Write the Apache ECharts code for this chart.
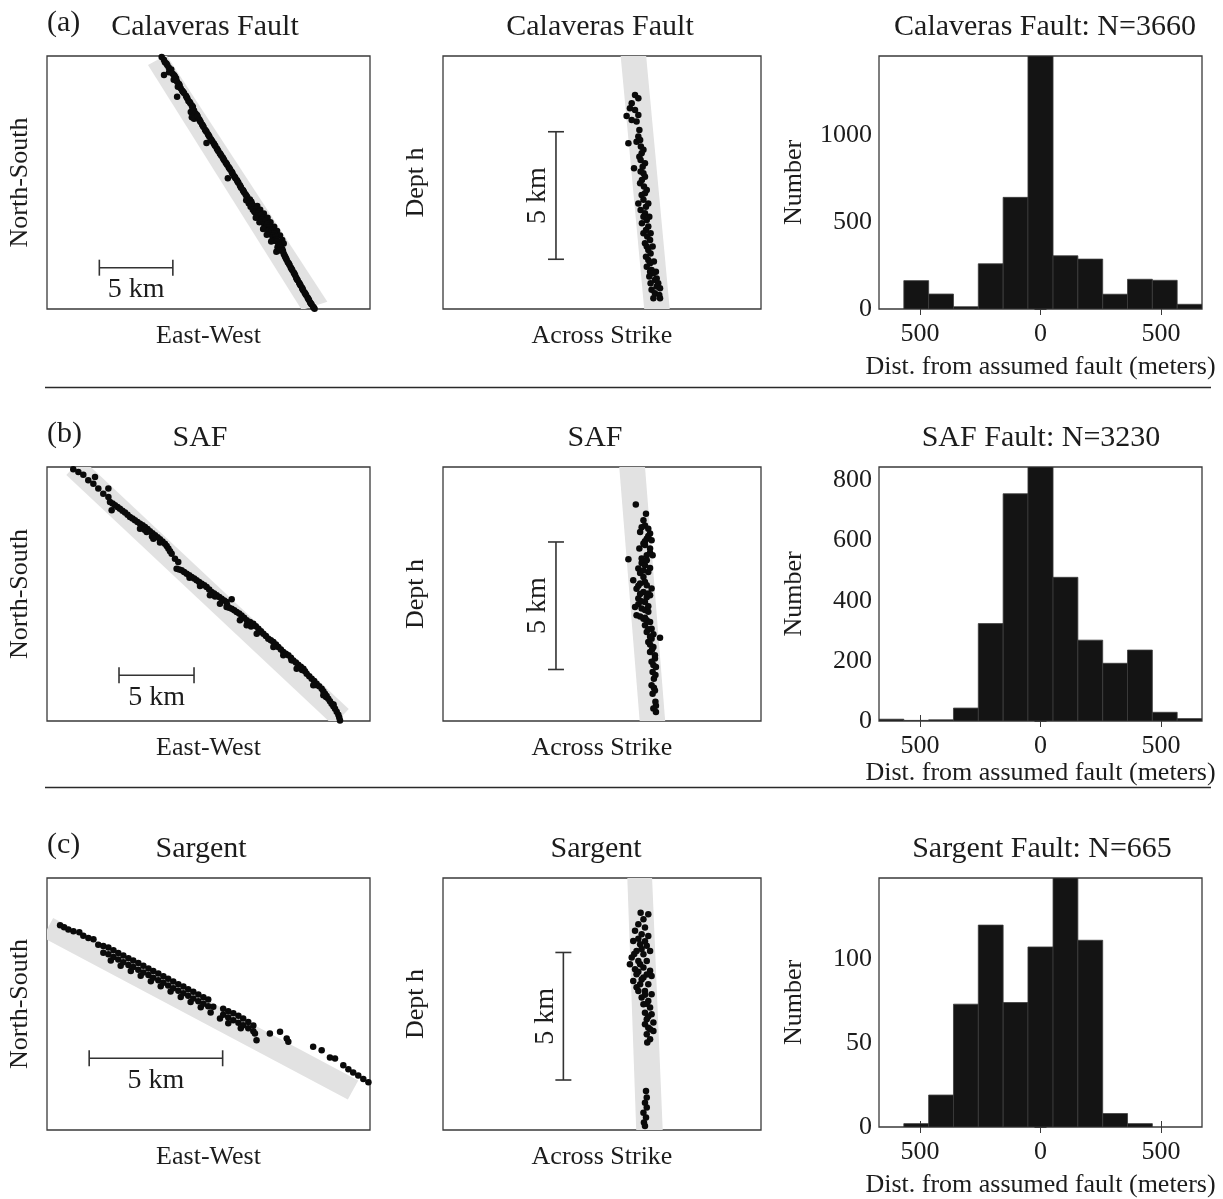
<!DOCTYPE html>
<html>
<head>
<meta charset="utf-8">
<script src="https://cdn.jsdelivr.net/npm/echarts@6/dist/echarts.min.js"></script>
<style>
  html, body { margin: 0; padding: 0; background: #fff; }
  #chart { width: 1223px; height: 1199px; }
</style>
</head>
<body>
<div id="chart"></div>
<script>
// ---------- Histogram data: distance of events from the assumed fault (m) ----------
const binEdges = [-670, -567, -464, -361, -258, -155, -52, 52, 155, 258, 361, 464, 567, 670];
const calaverasCounts = [0, 163, 86, 13, 260, 642, 1455, 306, 287, 85, 171, 165, 27];
const safCounts       = [6, 2, 4, 43, 324, 756, 845, 478, 269, 192, 236, 29, 8];
const sargentCounts   = [0, 2, 19, 73, 120, 74, 107, 148, 111, 8, 2, 0, 0];
const distTicks = [-500, 0, 500];
const calaverasCountTicks = [0, 500, 1000];
const safCountTicks = [0, 200, 400, 600, 800];
const sargentCountTicks = [0, 50, 100];

const panelTitles = [
  ['Calaveras Fault', 'Calaveras Fault', 'Calaveras Fault: N=3660'],
  ['SAF', 'SAF', 'SAF Fault: N=3230'],
  ['Sargent', 'Sargent', 'Sargent Fault: N=665']
];
const rowTags = ['(a)', '(b)', '(c)'];
const scaleText = '5 km';

// ---------- Map view epicenters (km, box origin at lower left) ----------
const calaverasMap = [
  [7.80,17.15],[7.95,16.95],[8.02,16.78],[8.12,16.7],[8.18,16.6],[8.28,16.42],[8.45,16.3],[8.4,16.2],
  [8.3,16.1],[8.55,16.0],[7.96,15.92],[8.65,15.9],[8.7,15.82],[8.78,15.7],[8.62,15.6],[8.85,15.45],
  [8.98,15.3],[9.02,15.2],[8.9,15.12],[9.1,15.0],[9.2,14.85],[9.25,14.78],[9.32,14.7],[8.85,14.44],
  [9.45,14.5],[9.5,14.4],[9.55,14.32],[9.62,14.15],[9.7,14.08],[9.75,14.0],[9.85,13.85],[9.92,13.75],
  [9.9,13.65],[9.78,13.4],[10.0,13.5],[10.1,13.3],[10.2,13.2],[9.85,13.05],[10.0,12.95],[10.25,13.1],
  [10.35,12.9],[10.4,12.8],[10.45,12.72],[10.55,12.55],[10.6,12.46],[10.65,12.38],[10.75,12.2],
  [10.8,12.12],[10.85,12.05],[10.95,11.88],[11.0,11.8],[11.05,11.72],[11.15,11.55],[11.2,11.47],
  [10.85,11.3],[11.25,11.4],[11.35,11.25],[11.4,11.16],[11.45,11.08],[11.55,10.92],[11.6,10.84],
  [11.65,10.75],[11.75,10.6],[11.8,10.52],[11.85,10.45],[11.95,10.3],[12.0,10.2],[12.05,10.12],
  [12.15,9.97],[12.2,9.9],[12.25,9.82],[12.35,9.66],[12.4,9.58],[12.45,9.5],[12.55,9.35],[12.6,9.27],
  [12.62,9.2],[12.72,9.05],[12.77,8.98],[12.3,8.9],[12.82,8.9],[12.92,8.75],[12.97,8.66],[13.02,8.58],
  [13.12,8.42],[13.16,8.33],[13.2,8.25],[13.32,8.1],[13.36,8.02],[13.4,7.95],[13.5,7.8],[13.56,7.7],
  [13.62,7.62],[13.55,7.4],[13.8,7.45],[13.9,7.3],[13.72,7.2],[13.95,7.15],[13.85,6.95],[14.1,6.98],
  [14.3,7.0],[14.0,6.75],[14.25,6.8],[14.5,6.75],[14.1,6.62],[14.18,6.55],[14.4,6.6],[14.35,6.5],
  [14.75,6.5],[14.3,6.35],[14.55,6.4],[14.48,6.15],[14.2,6.2],[14.7,6.2],[15.0,6.2],[14.62,6.08],
  [14.6,5.95],[14.85,6.0],[14.45,5.9],[15.2,5.9],[14.78,5.75],[15.0,5.8],[14.95,5.68],[14.9,5.55],
  [15.45,5.6],[15.12,5.55],[14.7,5.45],[15.15,5.42],[15.05,5.3],[15.3,5.35],[15.65,5.3],[15.2,5.1],
  [15.45,5.15],[14.95,5.05],[15.85,5.0],[15.4,5.0],[15.35,4.88],[15.55,4.9],[15.6,4.75],[16.0,4.7],
  [15.45,4.65],[15.25,4.6],[15.65,4.6],[16.1,4.45],[15.75,4.4],[15.8,4.3],[15.68,4.2],[15.9,4.2],
  [16.0,4.08],[15.6,3.9],[15.85,3.98],[16.05,3.95],[16.1,3.75],[16.15,3.65],[16.2,3.55],[16.25,3.45],
  [16.3,3.35],[16.38,3.18],[16.45,3.1],[16.5,3.0],[16.58,2.82],[16.63,2.74],[16.68,2.65],[16.78,2.48],
  [16.83,2.39],[16.88,2.3],[16.95,2.12],[17.0,2.03],[17.05,1.95],[17.15,1.78],[17.2,1.69],[17.25,1.6],
  [17.35,1.45],[17.38,1.36],[17.42,1.28],[17.52,1.12],[17.57,1.03],[17.62,0.95],[17.72,0.78],
  [17.77,0.7],[17.82,0.62],[17.9,0.45],[17.95,0.38],[18.0,0.3],[18.1,0.15],[18.15,0.08],[18.2,0.02]
];
const safMap = [
  [1.75,16.78],[2.09,16.6],[2.42,16.42],[2.75,16.04],[3.2,16.27],[3.09,15.82],[3.42,15.49],[3.75,15.15],
  [4.09,15.49],[4.09,14.93],[4.31,14.04],[4.2,14.6],[4.37,14.49],[4.53,14.38],[4.7,14.27],[4.86,14.15],
  [5.03,14.02],[5.2,13.89],[5.37,13.75],[5.53,13.6],[5.7,13.49],[5.86,13.38],[6.03,13.27],[6.2,13.15],
  [6.37,13.04],[6.53,12.93],[6.7,12.79],[6.86,12.64],[7.03,12.51],[7.2,12.38],[7.37,12.25],[7.53,12.11],
  [7.7,11.97],[7.86,11.82],[7.98,11.66],[8.09,11.49],[8.2,11.32],[8.31,11.15],[6.2,12.82],[6.64,12.6],
  [6.5,12.75],[7.0,12.3],[7.09,12.15],[7.53,11.89],[8.53,10.82],[8.75,10.6],[8.64,10.15],[8.81,10.1],
  [8.97,10.04],[9.14,9.93],[9.31,9.82],[9.48,9.71],[9.5,9.55],[9.64,9.6],[9.81,9.49],[9.97,9.38],
  [10.14,9.27],[10.2,9.0],[10.31,9.15],[10.48,9.04],[10.64,8.93],[10.81,8.77],[10.97,8.6],[11.14,8.49],
  [11.2,8.3],[11.31,8.38],[11.48,8.27],[11.64,8.15],[11.81,8.04],[11.97,7.93],[12.0,7.75],[12.31,8.11],
  [11.97,7.6],[12.14,7.55],[12.31,7.49],[12.48,7.38],[12.64,7.27],[12.81,7.16],[12.97,7.04],[13.0,6.9],
  [13.14,6.88],[13.31,6.71],[13.53,6.6],[13.6,6.3],[13.75,6.49],[13.92,6.32],[14.09,6.15],[14.2,5.95],
  [14.26,5.99],[14.42,5.82],[14.59,5.66],[14.75,5.49],[14.92,5.38],[15.09,5.27],[15.26,5.1],[15.3,5.0],
  [15.42,4.93],[15.59,4.77],[15.75,4.6],[15.92,4.49],[16.09,4.38],[16.26,4.21],[16.3,4.05],[16.42,4.04],
  [16.59,3.9],[16.75,3.75],[16.92,3.62],[17.0,3.4],[17.09,3.49],[17.2,3.32],[17.31,3.15],[17.48,2.99],
  [17.64,2.82],[17.81,2.66],[17.9,2.4],[17.97,2.49],[18.14,2.32],[18.31,2.15],[18.42,1.99],[18.53,1.82],
  [18.6,1.6],[18.64,1.66],[18.75,1.49],[18.86,1.32],[18.97,1.15],[19.1,1.1],[19.09,0.99],[19.2,0.82],
  [19.31,0.62],[19.42,0.42],[19.48,0.23],[19.53,0.04],
  [10.86,8.38],[11.53,7.82],[12.86,6.71],[13.31,6.38],[13.98,5.82],[15.09,4.93],[15.75,4.38],[16.64,3.49],
  [17.75,2.38],[18.42,1.71]
];
const sargentMap = [
  [0.49,7.68],[0.64,7.6],[0.80,7.52],[0.99,7.45],[1.21,7.42],[1.36,7.28],[1.55,7.2],[1.74,7.15],
  [1.92,6.95],[2.11,6.9],[2.11,6.65],
  [2.30,6.84],[2.30,6.59],[2.39,6.36],[2.49,6.74],[2.49,6.49],[2.67,6.64],[2.67,6.39],[2.76,6.16],
  [2.86,6.54],[2.86,6.29],[3.05,6.44],[3.05,6.19],[3.14,5.96],[3.23,6.36],[3.23,6.11],[3.42,6.26],
  [3.42,6.01],[3.51,5.78],[3.61,6.16],[3.61,5.91],[3.80,6.06],[3.80,5.81],[3.89,5.58],[3.98,5.96],
  [3.98,5.71],[4.17,5.87],[4.17,5.62],[4.26,5.39],[4.36,5.77],[4.36,5.52],[4.54,5.67],[4.54,5.42],
  [4.63,5.19],[4.73,5.57],[4.73,5.32],[4.92,5.47],[4.92,5.22],[5.01,4.99],[5.11,5.38],[5.11,5.13],
  [5.29,5.28],[5.29,5.03],[5.38,4.8],[5.48,5.18],[5.48,4.93],[5.67,5.08],[5.67,4.83],[5.76,4.6],
  [5.86,4.98],[5.86,4.73],[6.04,4.89],[6.04,4.64],[6.13,4.41],[6.23,4.62],[6.48,4.18],[6.60,4.55],
  [6.60,4.32],[6.79,4.45],[6.79,4.22],[6.79,4.0],[6.98,4.38],[6.98,4.12],[7.17,4.28],[7.17,4.02],
  [7.26,3.82],[7.35,4.18],[7.35,3.93],[7.54,4.05],[7.54,3.82],[7.73,3.92],[7.73,3.7],
  [7.79,3.62],[7.85,3.37],[8.35,3.62],[8.73,3.68],[8.98,3.43],[9.04,3.31],
  [9.97,3.12],[10.29,2.99],[10.6,2.72],[10.79,2.68],[11.1,2.43],[11.29,2.28],[11.47,2.16],
  [11.66,2.04],[11.85,1.91],[12.04,1.79]
];

// ---------- Depth sections across strike (km) ----------
const calaverasSection = [
  [7.53,8.39],[7.66,8.26],[7.4,8.07],[7.33,7.87],[7.53,7.8],[7.66,7.61],[7.2,7.57],[7.59,7.35],[7.4,7.41],
  [7.7,7.02],[7.66,6.76],[7.27,6.5],[7.59,6.56],[7.73,6.63],[7.76,6.37],[7.86,6.24],[7.79,6.11],[7.7,5.97],
  [7.75,5.84],[7.92,5.71],[7.83,5.58],[7.49,5.52],[7.75,5.39],[7.86,5.32],[7.92,5.19],[7.8,5.06],[7.73,4.93],
  [7.88,4.8],[7.99,4.67],[7.92,4.54],[7.79,4.47],[7.86,4.28],[7.66,4.14],[8.05,4.14],[7.96,4.01],[7.75,3.88],
  [7.92,3.75],[7.86,3.62],[8.09,3.62],[7.99,3.49],[7.8,3.36],[8.05,3.23],[7.96,3.1],[7.86,2.97],[8.14,2.97],
  [8.01,2.84],[8.12,2.71],[7.92,2.58],[7.99,2.45],[8.22,2.45],[8.05,2.31],[8.14,2.18],[7.96,2.05],[8.05,1.92],
  [8.27,1.86],[8.12,1.79],[7.99,1.66],[8.18,1.53],[8.12,1.46],[8.35,1.46],[8.25,1.4],[8.09,1.27],[8.38,1.2],
  [8.31,1.14],[8.14,1.01],[8.44,1.01],[8.38,0.88],[8.51,0.81],[8.18,0.75],[8.31,0.62],[8.48,0.55],[8.25,0.42],
  [8.51,0.42]
];
const safSection = [
  [7.56,8.49],[7.96,8.13],[7.86,7.87],[7.92,7.67],[8.05,7.54],[7.79,7.6],[8.12,7.35],[7.73,7.41],[8.05,7.25],
  [7.99,7.15],[8.18,7.09],[7.86,6.96],[7.92,6.9],[7.7,6.76],[8.12,6.76],[8.12,6.6],[8.22,6.5],[7.27,6.34],
  [7.99,6.5],[7.79,6.37],[7.79,6.2],[7.92,6.11],[8.12,6.0],[7.66,5.98],[8.05,5.84],[7.73,5.8],[7.86,5.65],
  [7.46,5.52],[7.92,5.45],[7.73,5.39],[7.99,5.32],[8.18,5.2],[7.59,5.19],[7.86,5.06],[7.73,4.98],[8.12,4.93],
  [7.99,4.85],[7.66,4.8],[7.92,4.67],[7.66,4.58],[7.53,4.47],[7.79,4.41],[7.92,4.35],[8.05,4.28],[7.59,4.15],
  [7.73,4.1],[7.86,4.01],[7.99,3.95],[8.12,3.88],[7.92,3.75],[8.18,3.62],[8.05,3.6],[7.99,3.49],[8.25,3.4],
  [8.51,3.26],[8.18,3.23],[8.05,3.1],[8.12,3.0],[8.25,2.9],[8.12,2.71],[8.31,2.58],[8.31,2.45],[8.18,2.32],
  [8.25,2.2],[8.35,2.12],[8.22,1.92],[8.33,1.8],[8.27,1.66],[8.18,1.4],[8.27,1.3],[8.31,1.2],[8.22,1.07],
  [8.33,0.75],[8.35,0.6],[8.25,0.49],[8.35,0.35],
  [7.92,7.05],[7.99,6.3],[7.86,5.9],[7.66,5.3],[8.05,5.0],[7.79,4.7],[8.05,4.5],[7.92,4.05],[8.12,3.3],[8.2,2.8]
];
const sargentSection = [
  [7.75,8.52],[8.05,8.46],[7.86,8.26],[7.66,8.07],[7.92,7.94],[7.53,7.81],[7.79,7.67],[8.05,7.61],[7.66,7.5],
  [7.46,7.41],[7.92,7.4],[7.73,7.28],[7.99,7.22],[7.79,7.1],[8.12,7.02],[7.59,7.02],[7.5,6.9],[7.86,6.89],
  [7.4,6.76],[7.66,6.63],[7.99,6.63],[7.73,6.5],[7.33,6.5],[7.86,6.37],[7.53,6.3],[8.12,6.24],[7.66,6.2],
  [7.59,6.11],[7.99,6.1],[8.18,6.04],[7.86,5.98],[7.79,5.9],[7.46,5.84],[7.73,5.71],[8.05,5.71],[7.59,5.6],
  [7.66,5.45],[7.92,5.45],[8.18,5.32],[7.92,5.3],[7.79,5.19],[8.05,5.06],[7.99,4.95],[7.86,4.93],[8.12,4.8],
  [7.92,4.6],[8.18,4.54],[8.05,4.45],[7.99,4.34],[8.25,4.21],[7.92,4.15],[8.05,4.01],[8.12,3.95],[8.25,3.88],
  [7.99,3.75],[8.12,3.56],[8.01,3.43],
  [7.96,1.53],[7.99,1.27],[7.92,1.07],[7.99,0.88],[7.86,0.68],[7.96,0.49],[7.88,0.29],[7.92,0.16]
];

// ---------- Gray fault-zone bands (km polygons) ----------
const calaverasMapBand = [[6.87,16.6],[8.12,17.28],[19.07,0.5],[17.33,-0.07]];
const safMapBand = [[1.29,16.4],[2.31,17.5],[20.11,0.8],[19.09,-0.3]];
const sargentMapBand = [[-0.16,7.22],[0.23,7.95],[11.66,1.86],[11.27,1.14]];
const calaverasSectionBand = [[6.95,10.1],[7.95,10.1],[8.9,-0.1],[7.9,-0.1]];
const safSectionBand = [[6.9,10.1],[7.91,10.1],[8.72,-0.1],[7.72,-0.1]];
const sargentSectionBand = [[7.22,10.1],[8.19,10.1],[8.62,-0.1],[7.58,-0.1]];

// ---------- 5 km scale bars: [x0, y0, x1, y1] in km ----------
const calaverasMapBar = [3.56, 2.81, 8.56, 2.81];
const safMapBar = [4.8, 3.05, 9.8, 3.05];
const sargentMapBar = [1.58, 2.69, 6.58, 2.69];
const calaverasSectionBar = [4.43, 1.95, 4.43, 6.95];
const safSectionBar = [4.43, 2.02, 4.43, 7.02];
const sargentSectionBar = [4.72, 1.96, 4.72, 6.96];

// ---------- Layout & style ----------
const FONT = '"Liberation Serif", "Times New Roman", serif';
const INK = '#1c1c1c';
const BOX = '#3a3a3a';
const BAND = '#e2e2e2';
const cols = [{ left: 47, width: 323 }, { left: 443, width: 318 }, { left: 879, width: 323 }];
const rows = [{ top: 56, height: 253 }, { top: 467, height: 254 }, { top: 878, height: 252 }];

const mapPanels = [
  { pts: calaverasMap, band: calaverasMapBand, bar: calaverasMapBar, xMax: 21.97, yMax: 17.21 },
  { pts: safMap, band: safMapBand, bar: safMapBar, xMax: 21.53, yMax: 16.93 },
  { pts: sargentMap, band: sargentMapBand, bar: sargentMapBar, xMax: 12.1, yMax: 9.45 }
];
const sectionPanels = [
  { pts: calaverasSection, band: calaverasSectionBand, bar: calaverasSectionBar, xMax: 12.47, yMax: 9.92 },
  { pts: safSection, band: safSectionBand, bar: safSectionBar, xMax: 12.47, yMax: 9.96 },
  { pts: sargentSection, band: sargentSectionBand, bar: sargentSectionBar, xMax: 12.47, yMax: 9.88 }
];
const histPanels = [
  { counts: calaverasCounts, yTicks: calaverasCountTicks, yMax: 1455, nameGap: 45 },
  { counts: safCounts, yTicks: safCountTicks, yMax: 845, nameGap: 35 },
  { counts: sargentCounts, yTicks: sargentCountTicks, yMax: 148, nameGap: 45 }
];

const nameStyle = { fontFamily: FONT, fontSize: 26, color: INK };
const grids = [], xAxes = [], yAxes = [], series = [];

function addGrid(r, c) {
  grids.push({
    left: cols[c].left, top: rows[r].top, width: cols[c].width, height: rows[r].height,
    show: true, borderColor: BOX, borderWidth: 1.3, backgroundColor: 'transparent', containLabel: false
  });
  return grids.length - 1;
}

function plainAxis(gi, max, name, isY) {
  return {
    type: 'value', gridIndex: gi, min: 0, max: max,
    name: name, nameLocation: 'middle', nameGap: 14, nameRotate: isY ? 90 : 0,
    nameTextStyle: Object.assign({}, nameStyle, isY ? {} : { verticalAlign: 'top' }),
    axisLine: { show: false }, axisTick: { show: false }, axisLabel: { show: false }, splitLine: { show: false }
  };
}

function bandSeries(idx, band) {
  return {
    type: 'custom', xAxisIndex: idx, yAxisIndex: idx, clip: true, silent: true, z: 1,
    data: [band[0]],
    renderItem: (params, api) => ({
      type: 'polygon',
      shape: { points: band.map(p => api.coord(p)) },
      style: { fill: BAND }
    })
  };
}

function scaleBarSeries(idx, bar, vertical) {
  return {
    type: 'custom', xAxisIndex: idx, yAxisIndex: idx, silent: true, z: 3,
    data: [bar],
    renderItem: (params, api) => {
      const a = api.coord([api.value(0), api.value(1)]);
      const b = api.coord([api.value(2), api.value(3)]);
      const st = { stroke: '#333', lineWidth: 1.6 };
      const cap = 8;
      const font = '28px ' + FONT;
      const kids = [{ type: 'line', shape: { x1: a[0], y1: a[1], x2: b[0], y2: b[1] }, style: st }];
      if (vertical) {
        kids.push({ type: 'line', shape: { x1: a[0] - cap, y1: a[1], x2: a[0] + cap, y2: a[1] }, style: st });
        kids.push({ type: 'line', shape: { x1: b[0] - cap, y1: b[1], x2: b[0] + cap, y2: b[1] }, style: st });
        kids.push({
          type: 'text', x: a[0] - 18, y: (a[1] + b[1]) / 2, rotation: Math.PI / 2,
          style: { text: scaleText, font: font, fill: INK, align: 'center', verticalAlign: 'middle' }
        });
      } else {
        kids.push({ type: 'line', shape: { x1: a[0], y1: a[1] - cap, x2: a[0], y2: a[1] + cap }, style: st });
        kids.push({ type: 'line', shape: { x1: b[0], y1: b[1] - cap, x2: b[0], y2: b[1] + cap }, style: st });
        kids.push({
          type: 'text', x: (a[0] + b[0]) / 2, y: a[1] + 22,
          style: { text: scaleText, font: font, fill: INK, align: 'center', verticalAlign: 'middle' }
        });
      }
      return { type: 'group', children: kids };
    }
  };
}

function dotSeries(idx, pts, size) {
  return {
    type: 'scatter', xAxisIndex: idx, yAxisIndex: idx, data: pts, z: 2, clip: true,
    symbol: 'circle', symbolSize: size, itemStyle: { color: '#0a0a0a', opacity: 1 }, silent: true
  };
}

// Scatter panels: map view and depth section
for (let r = 0; r < 3; r++) {
  const m = mapPanels[r];
  let gi = addGrid(r, 0);
  xAxes.push(plainAxis(gi, m.xMax, 'East-West', false));
  yAxes.push(plainAxis(gi, m.yMax, 'North-South', true));
  let ai = xAxes.length - 1;
  series.push(bandSeries(ai, m.band), dotSeries(ai, m.pts, 6.5), scaleBarSeries(ai, m.bar, false));

  const s = sectionPanels[r];
  gi = addGrid(r, 1);
  xAxes.push(plainAxis(gi, s.xMax, 'Across Strike', false));
  yAxes.push(plainAxis(gi, s.yMax, 'Dept h', true));
  ai = xAxes.length - 1;
  series.push(bandSeries(ai, s.band), dotSeries(ai, s.pts, 6.5), scaleBarSeries(ai, s.bar, true));
}

// Histogram panels
const tickStyle = { lineStyle: { color: BOX, width: 1 } };
for (let r = 0; r < 3; r++) {
  const h = histPanels[r];
  const gi = addGrid(r, 2);
  xAxes.push({
    type: 'value', gridIndex: gi, min: binEdges[0], max: binEdges[binEdges.length - 1],
    name: 'Dist. from assumed fault (meters)', nameLocation: 'middle', nameGap: h.nameGap,
    nameTextStyle: Object.assign({}, nameStyle, { verticalAlign: 'top' }),
    axisLine: { show: false }, splitLine: { show: false },
    axisTick: Object.assign({ inside: true, length: 6, customValues: distTicks }, tickStyle),
    axisLabel: { customValues: distTicks, formatter: v => String(Math.abs(v)), margin: 12,
                 fontFamily: FONT, fontSize: 26, color: INK }
  });
  yAxes.push({
    type: 'value', gridIndex: gi, min: 0, max: h.yMax,
    name: 'Number', nameLocation: 'middle', nameGap: 72, nameRotate: 90, nameTextStyle: nameStyle,
    axisLine: { show: false }, splitLine: { show: false },
    axisTick: Object.assign({ inside: true, length: 6, customValues: h.yTicks }, tickStyle),
    axisLabel: { customValues: h.yTicks, formatter: v => String(v), margin: 7,
                 fontFamily: FONT, fontSize: 26, color: INK }
  });
  const ai = xAxes.length - 1;
  // mirrored ticks on top and right edges of the box
  xAxes.push({
    type: 'value', gridIndex: gi, position: 'top', min: binEdges[0], max: binEdges[binEdges.length - 1],
    axisLine: { show: false }, splitLine: { show: false }, axisLabel: { show: false },
    axisTick: Object.assign({ inside: true, length: 6, customValues: distTicks }, tickStyle)
  });
  yAxes.push({
    type: 'value', gridIndex: gi, position: 'right', min: 0, max: h.yMax,
    axisLine: { show: false }, splitLine: { show: false }, axisLabel: { show: false },
    axisTick: Object.assign({ inside: true, length: 6, customValues: h.yTicks }, tickStyle)
  });
  series.push({
    type: 'custom', xAxisIndex: ai, yAxisIndex: ai, clip: true, silent: true,
    data: h.counts.map((c, i) => [binEdges[i], binEdges[i + 1], c]),
    encode: { x: [0, 1], y: 2 },
    renderItem: (params, api) => {
      if (!api.value(2)) return { type: 'group', children: [] };
      const p0 = api.coord([api.value(0), 0]);
      const p1 = api.coord([api.value(1), api.value(2)]);
      return {
        type: 'rect',
        shape: { x: p0[0], y: p1[1], width: p1[0] - p0[0], height: p0[1] - p1[1] },
        style: { fill: '#141414', stroke: '#3c3c3c', lineWidth: 0.8 }
      };
    }
  });
}

// Titles, row tags and separators
const titleX = [[205, 600, 1045], [200, 595, 1041], [201, 596, 1042]];
const titleY = [27, 438, 849];
const graphics = [];
for (let r = 0; r < 3; r++) {
  graphics.push({
    type: 'text', left: 47, top: titleY[r] - 19,
    style: { text: rowTags[r], font: '30px ' + FONT, fill: INK }
  });
  for (let c = 0; c < 3; c++) {
    graphics.push({
      type: 'text', x: titleX[r][c], y: titleY[r],
      style: { text: panelTitles[r][c], font: '30px ' + FONT, fill: INK, align: 'center', verticalAlign: 'middle' }
    });
  }
}
[387.5, 787.5].forEach(y => graphics.push({
  type: 'line', shape: { x1: 45, y1: y, x2: 1211, y2: y }, style: { stroke: '#2a2a2a', lineWidth: 1.5 }
}));

const chart = echarts.init(document.getElementById('chart'), null, { renderer: 'canvas' });
chart.setOption({
  animation: false,
  backgroundColor: '#ffffff',
  grid: grids,
  xAxis: xAxes,
  yAxis: yAxes,
  series: series,
  graphic: graphics
});
</script>
</body>
</html>
